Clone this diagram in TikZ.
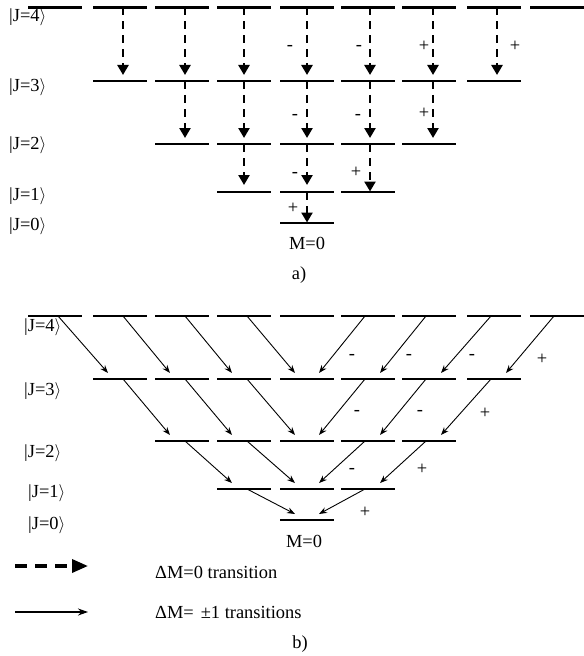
\documentclass[tikz,border=0pt]{standalone}
\usepackage{fontspec}
\setmainfont{Liberation Serif}
\usetikzlibrary{arrows.meta,calc}
\tikzset{
  level/.style={line width=2.2bp},
  thinlevel/.style={line width=1.4bp},
  dmzero/.style={line width=2.8bp, dash pattern=on 8bp off 6bp,
    -{Triangle[length=10bp,width=11bp]}},
  dmone/.style={line width=0.9bp, -{Stealth[length=8bp,width=6bp]}},
  legzero/.style={line width=3.4bp, dash pattern=on 12bp off 8bp,
    -{Triangle[length=16bp,width=13bp]}},
  legone/.style={line width=1.1bp, -{Stealth[length=10bp,width=7bp]}},
  txt/.style={font=\fontsize{18.5}{20}\selectfont, inner sep=0pt},
  sign/.style={txt},
  jlabel/.style={txt, anchor=west},
}
\newcommand{\ket}[1]{|J=#1$\rangle$}
\begin{document}
\begin{tikzpicture}[x=1bp,y=-1bp]
\useasboundingbox (0,0) rectangle (584,656);
\def\xs{{55,120,182,244,307,368,429,494,557}}

% level coordinates: (<panel><J><M+4>)
\foreach \p/\J/\y in {a/4/7.5,a/3/81,a/2/144,a/1/192,a/0/223,
                      b/4/316,b/3/379,b/2/441,b/1/489,b/0/520}{
  \pgfmathtruncatemacro\kmin{4-\J}
  \pgfmathtruncatemacro\kmax{4+\J}
  \foreach \k in {\kmin,...,\kmax}{
    \pgfmathsetmacro\xx{\xs[\k]}
    \coordinate (\p\J\k) at (\xx,\y);
  }
}

% level segments
\foreach \p/\J/\st in {a/4/level,a/3/thinlevel,a/2/level,a/1/level,a/0/level,
                       b/4/level,b/3/level,b/2/level,b/1/level,b/0/level}{
  \pgfmathtruncatemacro\kmin{4-\J}
  \pgfmathtruncatemacro\kmax{4+\J}
  \foreach \k in {\kmin,...,\kmax}{
    \draw[\st] ([xshift=-27bp]\p\J\k) -- ([xshift=27bp]\p\J\k);
  }
}

% panel a: Delta M = 0 transitions (source, target, gap above target, x offset)
\foreach \s/\t/\g/\dx in {a41/a31/6/3,a42/a32/6/3,a43/a33/6/0,a44/a34/6/0,a45/a35/6/2,a46/a36/6/4,a47/a37/6/3,
                      a32/a22/6/3,a33/a23/6/0,a34/a24/6/0,a35/a25/6/2,a36/a26/6/4,
                      a23/a13/7/0,a24/a14/7/0,a25/a15/0.5/2,
                      a14/a04/0.5/0}{
  \draw[dmzero] ($(\s)+(\dx,0)$) -- ($(\t)+(\dx,-\g)$);
}

% panel b: Delta M = +1 transitions
\foreach \s/\t in {b40/b31,b41/b32,b42/b33,b43/b34,
                   b31/b22,b32/b23,b33/b24,
                   b22/b13,b23/b14,
                   b13/b04}{
  \draw[dmone] ($(\s)+(3,0)$) -- ($(\t)+(-12,-6)$);
}
% panel b: Delta M = -1 transitions
\foreach \s/\t in {b45/b34,b46/b35,b47/b36,b48/b37,
                   b35/b24,b36/b25,b37/b26,
                   b25/b14,b26/b15,
                   b15/b04}{
  \draw[dmone] ($(\s)+(-3,0)$) -- ($(\t)+(12,-6)$);
}

% state labels
\node[jlabel] (la4) at (9,17.5) {\ket{4}};
\node[jlabel] (la3) at (9,87) {\ket{3}};
\node[jlabel] (la2) at (9,145) {\ket{2}};
\node[jlabel] (la1) at (9,196) {\ket{1}};
\node[jlabel] (la0) at (9,226) {\ket{0}};
\node[jlabel] (lb4) at (24,327) {\ket{4}};
\node[jlabel] (lb3) at (24,391) {\ket{3}};
\node[jlabel] (lb2) at (24,453) {\ket{2}};
\node[jlabel] (lb1) at (28,493) {\ket{1}};
\node[jlabel] (lb0) at (28,525) {\ket{0}};

% polarisation signs, panel a
\node[sign] (sa1) at (290,48) {-};
\node[sign] (sa2) at (359,48) {-};
\node[sign] (sa3) at (424,46) {+};
\node[sign] (sa4) at (515,46) {+};
\node[sign] (sa5) at (295,117) {-};
\node[sign] (sa6) at (358,117) {-};
\node[sign] (sa7) at (424,113) {+};
\node[sign] (sa8) at (295,175) {-};
\node[sign] (sa9) at (356,172) {+};
\node[sign] (sa10) at (293,208) {+};

% polarisation signs, panel b
\node[sign] (sb1) at (352,357) {-};
\node[sign] (sb2) at (409,357) {-};
\node[sign] (sb3) at (472,357) {-};
\node[sign] (sb4) at (542,359) {+};
\node[sign] (sb5) at (357,413) {-};
\node[sign] (sb6) at (420,413) {-};
\node[sign] (sb7) at (485,413) {+};
\node[sign] (sb8) at (352,471) {-};
\node[sign] (sb9) at (422,469) {+};
\node[sign] (sb10) at (365,512) {+};

% captions
\node[txt] (ma) at (307,243) {M=0};
\node[txt] (capa) at (299,275) {a)};
\node[txt] (mb) at (304,541) {M=0};
\node[txt] (capb) at (300,644) {b)};

% legend
\coordinate (lz0) at (15,566);
\coordinate (lz1) at (88,566);
\coordinate (lo0) at (15,612);
\coordinate (lo1) at (88,612);
\draw[legzero] (lz0) -- (lz1);
\draw[legone] (lo0) -- (lo1);
\node[txt, anchor=base west] (tz) at (155,578) {ΔM=0 transition};
\node[txt, anchor=base west] (to) at (155,618) {ΔM=\hspace{7bp}±1 transitions};
\end{tikzpicture}
\end{document}
